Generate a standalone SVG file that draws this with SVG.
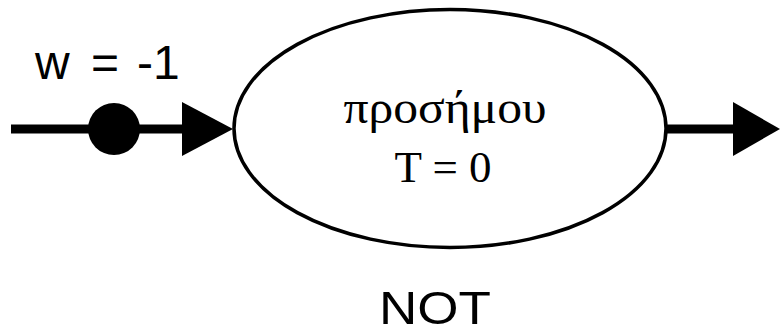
<svg xmlns="http://www.w3.org/2000/svg" width="781" height="334" viewBox="0 0 781 334">
<style>
.sans{font-family:"Liberation Sans",Arial,sans-serif;fill:#000}
.serif{font-family:"Liberation Serif","Times New Roman",serif;fill:#000;text-anchor:middle}
.conn{stroke:#000;stroke-width:9;fill:none}
.head{fill:#000}
</style>
<rect width="781" height="334" fill="#fff"/>
<g id="connectors">
<line class="conn" x1="11" y1="129" x2="184" y2="129"/>
<circle cx="114" cy="129" r="26" fill="#000"/>
<polygon class="head" points="182,102 233,129 182,156"/>
<line class="conn" x1="666" y1="129" x2="735" y2="129"/>
<polygon class="head" points="733,102 780,129 733,156"/>
</g>
<g id="weight-label">
<text class="sans" font-size="48" y="79"><tspan x="35">w</tspan><tspan x="91">=</tspan><tspan x="137">-1</tspan></text>
</g>
<g id="node-sign">
<ellipse cx="450" cy="128.5" rx="216" ry="119" fill="#fff" stroke="#000" stroke-width="3.5"/>
<text class="serif" font-size="46" x="445" y="123" textLength="203" lengthAdjust="spacingAndGlyphs">προσήμου</text>
<text class="serif" font-size="45" x="443" y="182">T = 0</text>
</g>
<g id="gate-label">
<text class="sans" font-size="46" x="379" y="324" textLength="112" lengthAdjust="spacingAndGlyphs">NOT</text>
</g>
</svg>
